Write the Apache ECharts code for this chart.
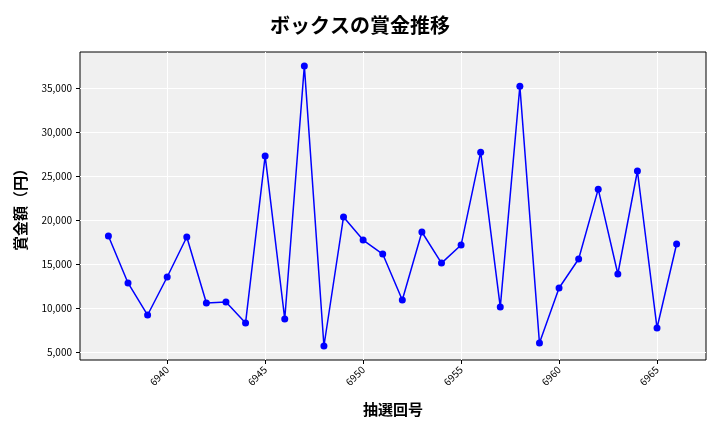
<!DOCTYPE html>
<html><head><meta charset="utf-8">
<script src="https://cdn.jsdelivr.net/npm/echarts@6/dist/echarts.min.js"></script>
<style>html,body{margin:0;padding:0;background:#fff}#c{width:720px;height:432px}</style>
</head><body><div id="c"></div>
<script>
const draws = [6937,6938,6939,6940,6941,6942,6943,6944,6945,6946,6947,6948,6949,6950,6951,6952,6953,6954,6955,6956,6957,6958,6959,6960,6961,6962,6963,6964,6965,6966];
const prizes = [18180,12840,9200,13520,18060,10570,10680,8300,27270,8750,37500,5680,20340,17720,16130,10900,18630,15100,17150,27700,10100,35200,6020,12270,15560,23500,13860,25560,7730,17270];
const xTicks = [6940,6945,6950,6955,6960,6965];
const yTicks = [5000,10000,15000,20000,25000,30000,35000];
const chart = echarts.init(document.getElementById('c'));
const font = "'Noto Sans CJK JP', sans-serif";
chart.setOption({
  animation:false,
  title:{text:'ボックスの賞金推移',left:'center',top:10,textStyle:{fontFamily:font,fontSize:20,fontWeight:'bold',color:'#000'}},
  grid:{left:80,right:14,top:52,bottom:72,backgroundColor:'#f0f0f0',show:true,borderWidth:1,borderColor:'#000'},
  xAxis:{type:'value',min:6935.55,max:6967.5,name:'抽選回号',nameLocation:'middle',nameGap:42,
    nameTextStyle:{fontFamily:font,fontSize:15,fontWeight:'bold',color:'#000'},
    axisLine:{show:false},
    axisTick:{show:true,customValues:xTicks,length:4,lineStyle:{color:'#000'}},
    axisLabel:{customValues:xTicks,rotate:45,fontSize:10,color:'#000',fontFamily:font,formatter:v=>String(v)},
    splitLine:{show:true,lineStyle:{color:'#fff',width:1}}},
  yAxis:{type:'value',min:4090,max:39080,name:'賞金額（円）',nameLocation:'middle',nameGap:52,
    nameTextStyle:{fontFamily:font,fontSize:15,fontWeight:'bold',color:'#000'},
    axisLine:{show:false},
    axisTick:{show:true,customValues:yTicks,length:4,lineStyle:{color:'#000'}},
    axisLabel:{customValues:yTicks,fontSize:10,color:'#000',fontFamily:font,formatter:v=>v.toLocaleString('en-US')},
    splitLine:{show:true,lineStyle:{color:'#fff',width:1}}},
  series:[{type:'line',data:draws.map((d,i)=>[d,prizes[i]]),symbol:'circle',symbolSize:7,
    lineStyle:{color:'#0000ff',width:1.5},itemStyle:{color:'#0000ff'}}]
});
</script></body></html>
